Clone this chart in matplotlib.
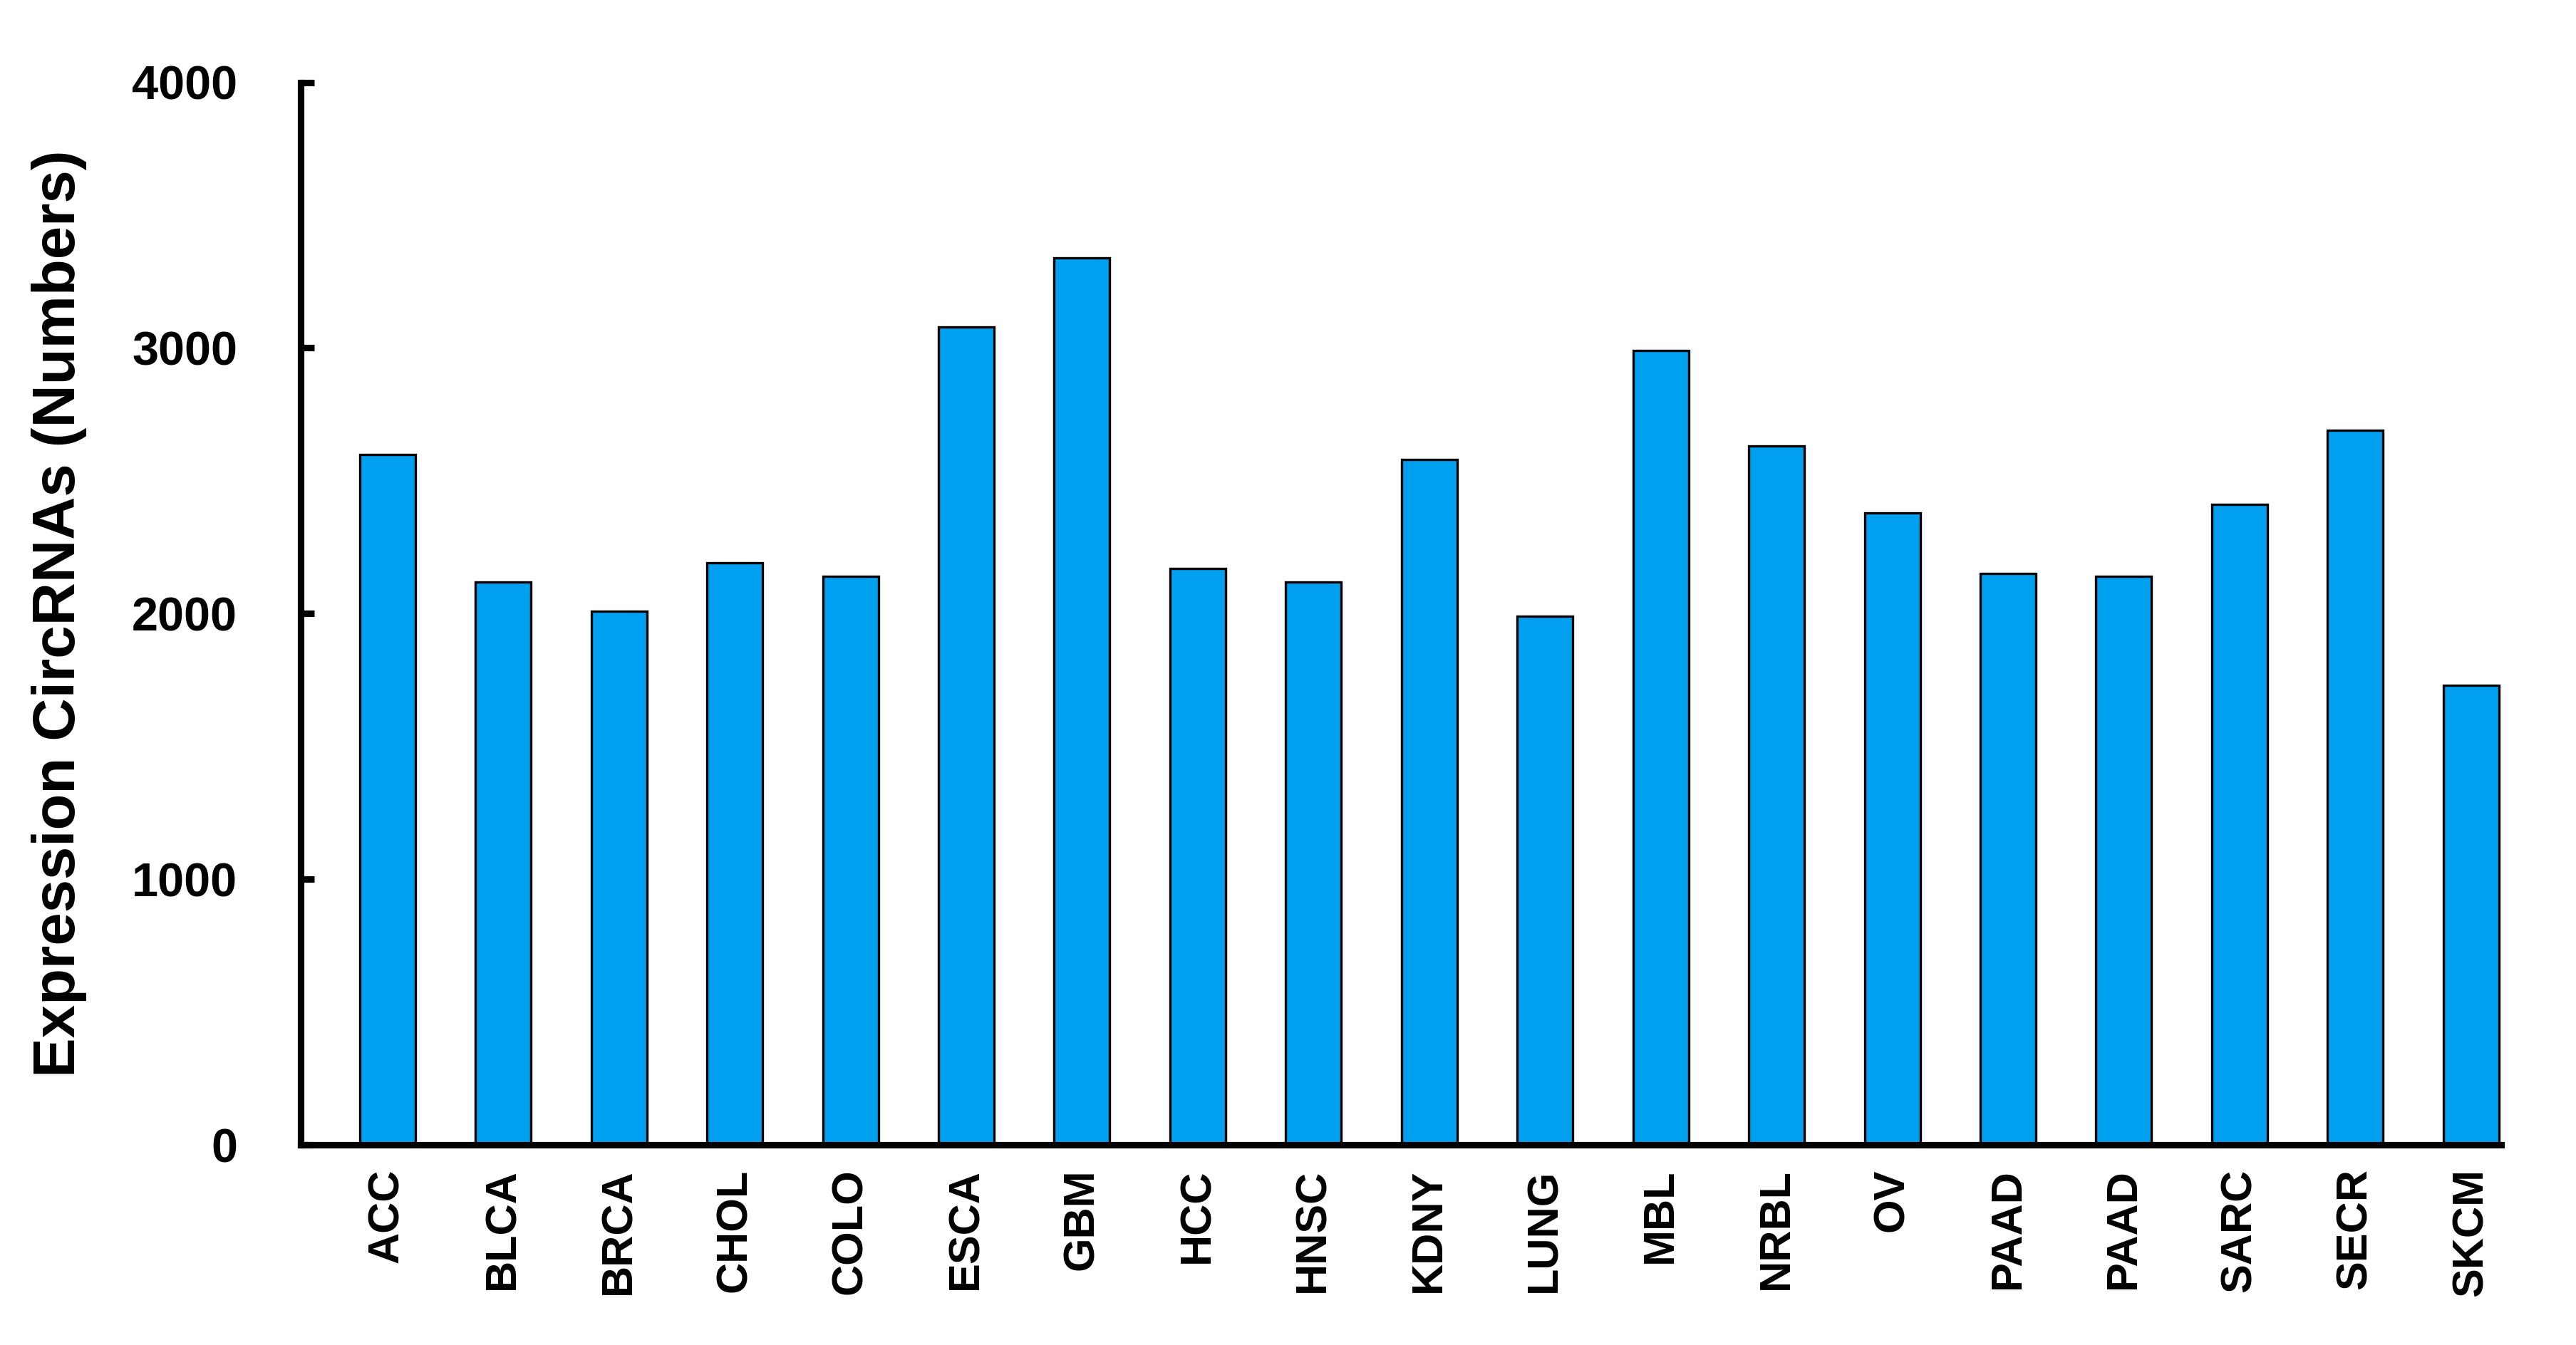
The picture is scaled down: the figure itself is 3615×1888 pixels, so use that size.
import matplotlib
matplotlib.use("Agg")
import matplotlib.pyplot as plt
import numpy as np

plt.rcParams['font.family'] = ['Liberation Sans', 'DejaVu Sans']

cancers = ["ACC", "BLCA", "BRCA", "CHOL", "COLO", "ESCA", "GBM", "HCC", "HNSC", "KDNY",
           "LUNG", "MBL", "NRBL", "OV", "PAAD", "PAAD", "SARC", "SECR", "SKCM"]
circ_counts = [2600, 2120, 2010, 2190, 2140, 3080, 3340, 2170, 2120, 2580,
               1990, 2990, 2630, 2380, 2150, 2140, 2410, 2690, 1730]
yticks = [0, 1000, 2000, 3000, 4000]

fig = plt.figure(figsize=(18.08, 9.44), dpi=200)
ax = fig.add_axes([0.1167, 0.1488, 0.854, 0.790])

x = np.arange(len(cancers))
ax.bar(x, circ_counts, width=0.48, color="#00A0F0", edgecolor="black", linewidth=1.2, zorder=2)

ax.set_xlim(-0.75, len(cancers) - 0.74)
ax.set_ylim(0, 4000)
ax.set_yticks(yticks)
ax.set_yticklabels([str(v) for v in yticks], fontsize=24, fontweight="bold")
ax.set_xticks(x)
ax.set_xticklabels(cancers, rotation=90, fontsize=22, fontweight="bold", va="top")

ax.spines['top'].set_visible(False)
ax.spines['right'].set_visible(False)
ax.spines['left'].set_linewidth(3.3)
ax.spines['bottom'].set_linewidth(3.3)
ax.tick_params(axis='y', direction='in', length=7, width=3.3, pad=32)
ax.tick_params(axis='x', length=0, pad=12)

ax.set_ylabel("Expression CircRNAs (Numbers)", fontsize=30, fontweight="bold")
ax.yaxis.set_label_coords(-0.097, 0.5)

plt.savefig("out.png", dpi=200)
plt.close()
